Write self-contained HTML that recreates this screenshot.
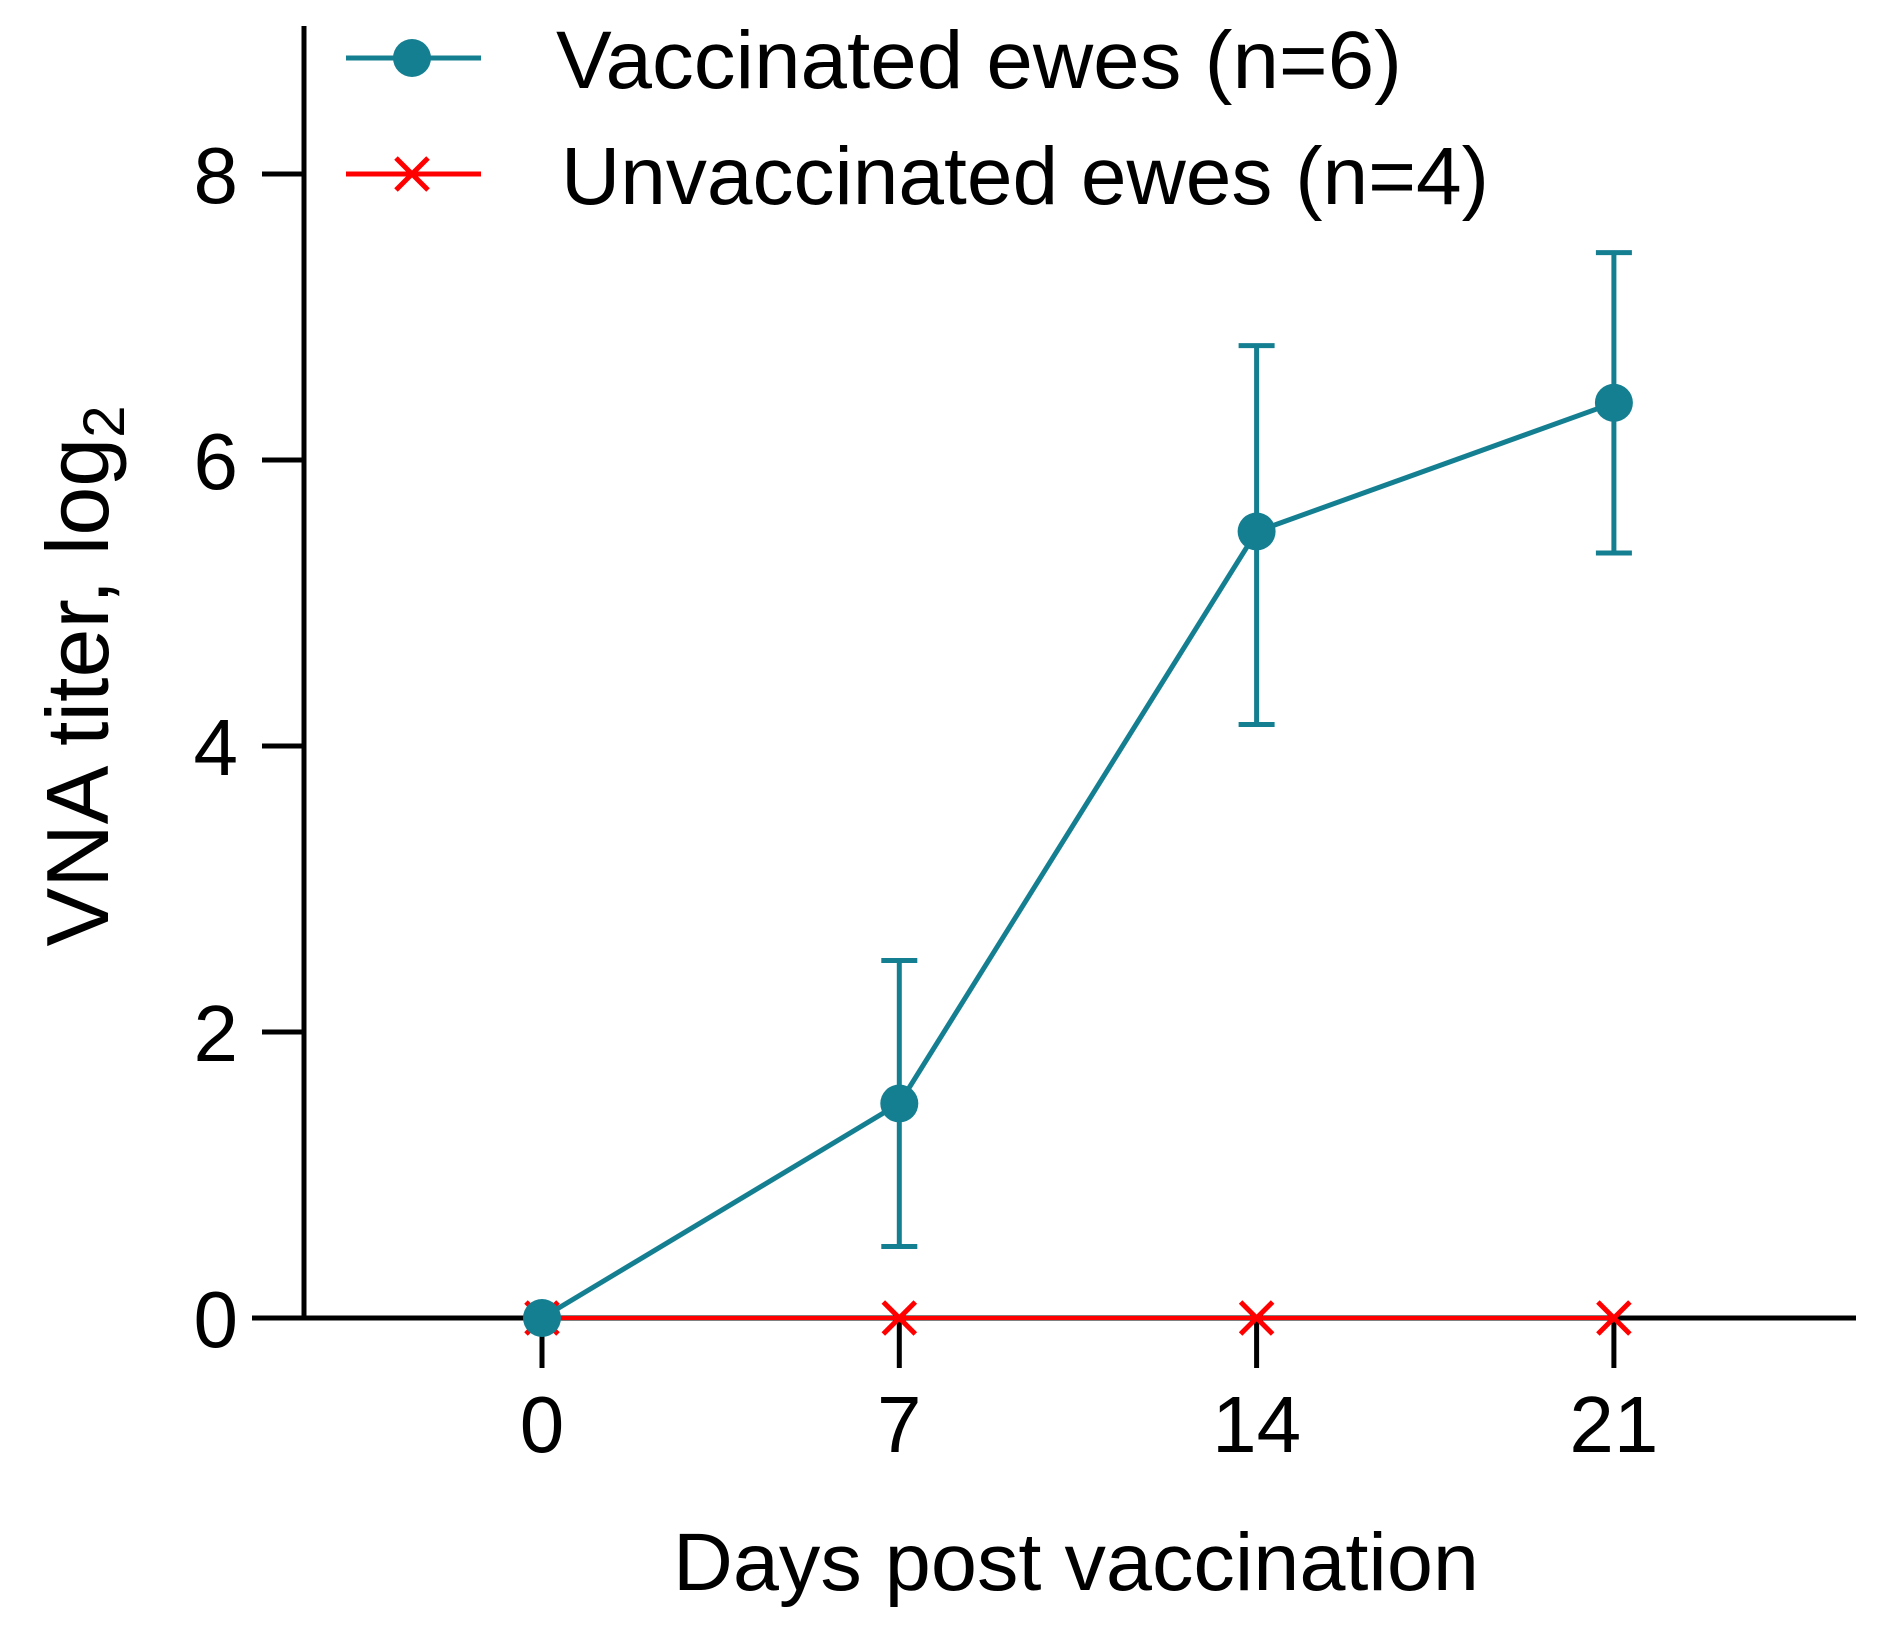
<!DOCTYPE html>
<html><head><meta charset="utf-8"><style>
html,body{margin:0;padding:0;background:#fff;}
svg{display:block;font-family:"Liberation Sans",sans-serif;}
</style></head><body>
<svg id="chart" width="1884" height="1628" viewBox="0 0 1884 1628">
<g id="axes"></g>
<g id="series"></g>
<g>
 <line x1="346" y1="58" x2="481" y2="58" stroke="#157f92" stroke-width="5"/>
 <circle cx="412" cy="58" r="19" fill="#157f92"/>
 <text x="556" y="88" font-size="82" textLength="846" lengthAdjust="spacingAndGlyphs">Vaccinated ewes (n=6)</text>
 <line x1="346" y1="174" x2="481" y2="174" stroke="#ff0000" stroke-width="5"/>
 <path d="M396 158 L428 190 M396 190 L428 158" stroke="#ff0000" stroke-width="5"/>
 <text x="561" y="204" font-size="82" textLength="928" lengthAdjust="spacingAndGlyphs">Unvaccinated ewes (n=4)</text>
</g>
<text x="1076" y="1590" font-size="82" text-anchor="middle" textLength="806" lengthAdjust="spacingAndGlyphs">Days post vaccination</text>
<text transform="translate(108,676) rotate(-90)" font-size="88" text-anchor="middle">VNA titer, log<tspan font-size="58" dy="16">2</tspan></text>
</svg>
<script>
const days = [0, 7, 14, 21];
const xTicks = ["0", "7", "14", "21"];
const yTicks = [0, 2, 4, 6, 8];
const vaccMean = [0, 1.5, 5.5, 6.4];
const vaccLow = [0, 0.5, 4.15, 5.35];
const vaccHigh = [0, 2.5, 6.8, 7.45];
const unvacc = [0, 0, 0, 0];

const NS = "http://www.w3.org/2000/svg";
const xs = d => 542 + (d / 7) * 357.3;
const ys = v => 1318 - v * 143;
function mk(tag, attrs, parent){const e=document.createElementNS(NS,tag);for(const k in attrs)e.setAttribute(k,attrs[k]);parent.appendChild(e);return e;}
const axes=document.getElementById('axes'), series=document.getElementById('series');
const TEAL="#157f92", RED="#ff0000";

let e=mk('line',{x1:304,y1:26,x2:304,y2:ys(0),stroke:'#000','stroke-width':5},axes);


e=mk('line',{x1:252,y1:ys(0),x2:1856,y2:ys(0),stroke:'#000','stroke-width':5},axes);


yTicks.forEach(v=>{
  let t=mk('line',{x1:262,y1:ys(v),x2:304,y2:ys(v),stroke:'#000','stroke-width':5},axes);
  
  
  let l=mk('text',{x:238,y:ys(v)+29,'font-size':80,'text-anchor':'end'},axes);
  l.textContent=String(v);
  
  
});
days.forEach((d,i)=>{
  let t=mk('line',{x1:xs(d),y1:ys(0),x2:xs(d),y2:ys(0)+50,stroke:'#000','stroke-width':5},axes);
  
  
  let l=mk('text',{x:xs(d),y:1452,'font-size':80,'text-anchor':'middle'},axes);
  l.textContent=xTicks[i];
  
  
});
let up=mk('polyline',{points:days.map((d,i)=>xs(d)+','+ys(unvacc[i])).join(' '),fill:'none',stroke:RED,'stroke-width':4},series);


days.forEach((d,i)=>{
  const cx=xs(d),cy=ys(unvacc[i]);
  let m=mk('path',{d:`M${cx-16} ${cy-16} L${cx+16} ${cy+16} M${cx-16} ${cy+16} L${cx+16} ${cy-16}`,stroke:RED,'stroke-width':5},series);
  
  
});
days.forEach((d,i)=>{
  if(vaccHigh[i]===vaccLow[i])return;
  const cx=xs(d);
  let g=mk('path',{d:`M${cx} ${ys(vaccLow[i])} L${cx} ${ys(vaccHigh[i])} M${cx-18} ${ys(vaccLow[i])} L${cx+18} ${ys(vaccLow[i])} M${cx-18} ${ys(vaccHigh[i])} L${cx+18} ${ys(vaccHigh[i])}`,stroke:TEAL,'stroke-width':5,fill:'none'},series);
  
  
});
let vp=mk('polyline',{points:days.map((d,i)=>xs(d)+','+ys(vaccMean[i])).join(' '),fill:'none',stroke:TEAL,'stroke-width':5},series);


days.forEach((d,i)=>{
  let c=mk('circle',{cx:xs(d),cy:ys(vaccMean[i]),r:19,fill:TEAL},series);
  
  
});
</script>
</body></html>
